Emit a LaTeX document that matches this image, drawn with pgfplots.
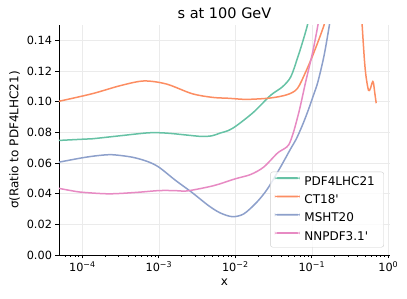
\documentclass[border=0pt]{standalone}
\usepackage{pgfplots}
\usepackage{pgfplotstable}
\pgfplotsset{compat=1.18}
\usepackage{fontspec}
\setmainfont{DejaVu Sans}[Ligatures=TeXOff]
\definecolor{cgreen}{HTML}{66C2A5}
\definecolor{corange}{HTML}{FC8D62}
\definecolor{cblue}{HTML}{8DA0CB}
\definecolor{cpink}{HTML}{E78AC3}
\pgfplotstableread{
lx y
-4.31 0.0747
-4.0 0.0755
-3.87 0.0758
-3.5 0.0778
-3.13 0.0797
-2.9 0.0795
-2.65 0.0783
-2.435 0.0773
-2.3 0.0778
-2.2 0.0795
-2.09 0.0812
-1.98 0.0845
-1.76 0.0932
-1.54 0.1041
-1.386 0.1096
-1.276 0.1161
-1.19 0.1280
-1.12 0.1390
-1.057 0.1500
-1.02 0.1600
}\pdfgreen
\pgfplotstableread{
lx y
-4.31 0.1002
-3.87 0.1052
-3.5 0.1105
-3.196 0.1135
-2.9 0.1115
-2.566 0.1052
-2.3 0.1028
-2.087 0.1022
-1.85 0.1015
-1.54 0.1024
-1.32 0.1046
-1.19 0.1085
-1.08 0.1194
-0.97 0.1324
-0.84 0.1500
-0.80 0.1600
}\ctA
\pgfplotstableread{
lx y
-0.35 0.1600
-0.342 0.1500
-0.312 0.1270
-0.29 0.1160
-0.259 0.1074
-0.235 0.1085
-0.21 0.1125
-0.195 0.1125
-0.175 0.1050
-0.158 0.0990
}\ctB
\pgfplotstableread{
lx y
-4.31 0.0605
-4.0 0.0634
-3.8 0.0648
-3.61 0.0654
-3.35 0.0638
-3.15 0.0610
-3.0 0.0573
-2.78 0.0486
-2.57 0.0409
-2.35 0.0322
-2.2 0.0275
-2.04 0.0250
-1.89 0.0268
-1.72 0.0344
-1.58 0.0431
-1.41 0.0573
-1.28 0.0690
-1.2 0.0760
-1.12 0.0850
-1.05 0.0940
-0.98 0.1040
-0.92 0.1130
-0.84 0.1300
-0.77 0.1500
-0.74 0.1600
}\msht
\pgfplotstableread{
lx y
-4.31 0.0435
-4.15 0.0420
-4.0 0.0409
-3.65 0.0399
-3.3 0.0408
-3.0 0.0420
-2.8 0.0420
-2.65 0.0417
-2.48 0.0431
-2.3 0.0450
-2.2 0.0464
-2.0 0.0497
-1.8 0.0525
-1.63 0.0573
-1.45 0.0664
-1.36 0.0693
-1.3 0.0720
-1.24 0.0800
-1.16 0.0950
-1.08 0.1130
-0.99 0.1320
-0.92 0.1500
-0.89 0.1600
}\nnpdf
\begin{document}
\begin{tikzpicture}
\useasboundingbox (-59pt,-44pt) rectangle (348pt,255pt);
\begin{axis}[
  scale only axis, width=331pt, height=230pt,
  xmode=log, xmin=4.95e-5, xmax=1.052, ymin=0, ymax=0.15,
  axis x line*=bottom, axis y line*=left,
  axis line style={-, line width=0.9pt, black},
  xtick={1e-4,1e-3,1e-2,1e-1,1},
  xticklabels={10\textsuperscript{−4},10\textsuperscript{−3},10\textsuperscript{−2},10\textsuperscript{−1},10\textsuperscript{0}},
  minor xtick={6e-5,7e-5,8e-5,9e-5,2e-4,3e-4,4e-4,5e-4,6e-4,7e-4,8e-4,9e-4,2e-3,3e-3,4e-3,5e-3,6e-3,7e-3,8e-3,9e-3,2e-2,3e-2,4e-2,5e-2,6e-2,7e-2,8e-2,9e-2,2e-1,3e-1,4e-1,5e-1,6e-1,7e-1,8e-1,9e-1},
  ytick={0,0.02,0.04,0.06,0.08,0.10,0.12,0.14},
  /pgf/number format/assume math mode=true,
  yticklabel style={/pgf/number format/fixed, /pgf/number format/fixed zerofill, /pgf/number format/precision=2},
  tick style={black, line width=0.8pt}, major tick length=3.5pt, minor tick length=2pt, tick align=outside,
  xmajorgrids, ymajorgrids, major grid style={black!8, line width=0.6pt},
  ticklabel style={font=\fontsize{11.3}{13}\selectfont},
  xlabel={x}, ylabel={σ(Ratio to PDF4LHC21)}, title={s at 100 GeV},
  label style={font=\fontsize{12}{14}\selectfont},
  title style={font=\fontsize{14.5}{17}\selectfont, yshift=-3pt},
  legend cell align=left,
  legend style={at={(1,0)}, anchor=south east, xshift=-6pt, yshift=7.5pt, draw=black!20, rounded corners=2.5pt, fill=white, fill opacity=0.8, text opacity=1, draw opacity=1, font=\fontsize{12}{14}\selectfont, inner xsep=4.5pt, inner ysep=3.5pt, row sep=4.8pt, nodes={inner xsep=4.5pt, inner ysep=1pt, text height=9pt, text depth=2.5pt}},
  legend image code/.code={\fill[#1, draw=none, fill opacity=1] (0pt,3.1pt) rectangle (25pt,4.9pt);},
]
\addplot[cgreen, line width=1.5pt, smooth] table[x expr={10^(\thisrow{lx})}, y=y] {\pdfgreen};
\addlegendentry{PDF4LHC21}
\addplot[corange, line width=1.5pt, smooth] table[x expr={10^(\thisrow{lx})}, y=y] {\ctA};
\addlegendentry{CT18'}
\addplot[corange, line width=1.5pt, smooth, forget plot] table[x expr={10^(\thisrow{lx})}, y=y] {\ctB};
\addplot[cblue, line width=1.5pt, smooth] table[x expr={10^(\thisrow{lx})}, y=y] {\msht};
\addlegendentry{MSHT20}
\addplot[cpink, line width=1.5pt, smooth] table[x expr={10^(\thisrow{lx})}, y=y] {\nnpdf};
\addlegendentry{NNPDF3.1'}
\end{axis}
\end{tikzpicture}
\end{document}
